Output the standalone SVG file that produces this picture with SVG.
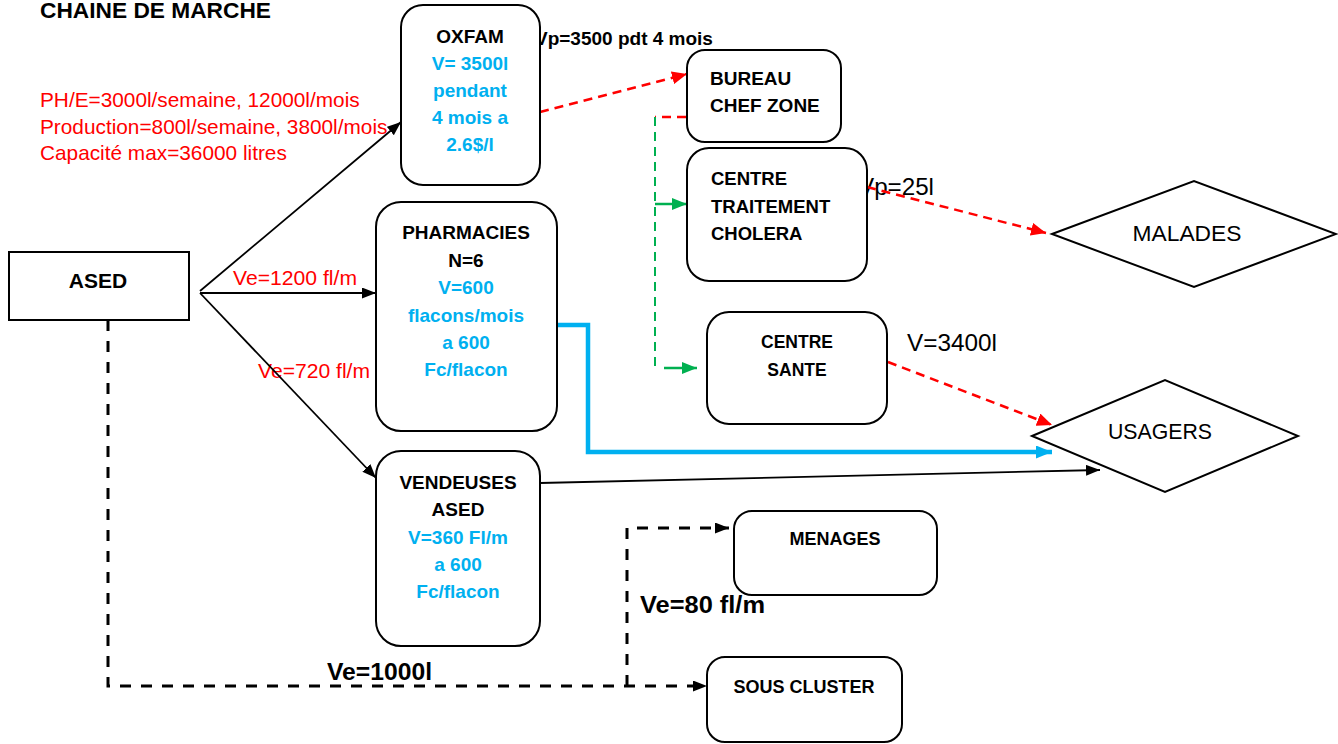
<svg xmlns="http://www.w3.org/2000/svg" width="1338" height="744" viewBox="0 0 1338 744">
<style>
text{font-family:"Liberation Sans",Arial,sans-serif}
.b{font-weight:bold;font-size:19px;fill:#000}
.bl{fill:#00B0F0}
.red{fill:#FF0000;font-size:20.8px}
.box{fill:#fff;stroke:#000;stroke-width:2}
.c{stroke-linecap:butt;fill:none}
.blk{stroke:#000;stroke-width:1.8}
.rd{stroke:#FF0000;stroke-width:2.5;stroke-dasharray:9 6}
.gd{stroke:#00B050;stroke-width:2;stroke-dasharray:9 6}
.gs{stroke:#00B050;stroke-width:2.5}
.bd{stroke:#000;stroke-width:3;stroke-dasharray:11 10}
.blu{stroke:#00B0F0;stroke-width:4.5;stroke-linejoin:miter}
.lbl{font-size:24px;fill:#000}
</style>
<defs>
<marker id="mk" viewBox="0 0 14 11" refX="14" refY="5.5" markerWidth="14" markerHeight="11" markerUnits="userSpaceOnUse" orient="auto"><path d="M0,0 L14,5.5 L0,11 z" fill="#000"/></marker>
<marker id="mr" viewBox="0 0 15 13" refX="15" refY="6.5" markerWidth="15" markerHeight="13" markerUnits="userSpaceOnUse" orient="auto"><path d="M0,0 L15,6.5 L0,13 z" fill="#FF0000"/></marker>
<marker id="mg" viewBox="0 0 15 12" refX="15" refY="6" markerWidth="15" markerHeight="12" markerUnits="userSpaceOnUse" orient="auto"><path d="M0,0 L15,6 L0,12 z" fill="#00B050"/></marker>
<marker id="mb" viewBox="0 0 16 13" refX="16" refY="6.5" markerWidth="16" markerHeight="13" markerUnits="userSpaceOnUse" orient="auto"><path d="M0,0 L16,6.5 L0,13 z" fill="#00B0F0"/></marker>
</defs>
<rect width="1338" height="744" fill="#fff"/>

<text x="40" y="18" style="font-weight:bold;font-size:22px" textLength="231" lengthAdjust="spacingAndGlyphs">CHAINE DE MARCHE</text>
<text class="red" x="40" y="107">PH/E=3000l/semaine, 12000l/mois</text>
<text class="red" x="40" y="134">Production=800l/semaine, 3800l/mois</text>
<text class="red" x="40" y="160">Capacité max=36000 litres</text>

<g id="labels">
<text class="red" x="233" y="285" style="font-size:19.5px" textLength="124" lengthAdjust="spacingAndGlyphs">Ve=1200 fl/m</text>
<text class="red" x="258" y="378" style="font-size:19.5px" textLength="112" lengthAdjust="spacingAndGlyphs">Ve=720 fl/m</text>
<text class="b" x="535" y="45">Vp=3500 pdt 4 mois</text>
<text class="lbl" x="858" y="195" textLength="76" lengthAdjust="spacingAndGlyphs">Vp=25l</text>
<text class="lbl" x="907" y="351" textLength="90" lengthAdjust="spacingAndGlyphs">V=3400l</text>
<text class="b" x="640" y="613" style="font-size:23px" textLength="125" lengthAdjust="spacingAndGlyphs">Ve=80 fl/m</text>
<text class="b" x="327" y="680" style="font-size:23px" textLength="105" lengthAdjust="spacingAndGlyphs">Ve=1000l</text>
</g>

<g id="connectors">
<path class="c blk" d="M200,291 L401,122" marker-end="url(#mk)"/>
<path class="c blk" d="M200,293 L376,293" marker-end="url(#mk)"/>
<path class="c blk" d="M200,293 L376,478" marker-end="url(#mk)"/>
<path class="c rd" d="M540,112 L687,74" marker-end="url(#mr)"/>
<path class="c rd" d="M686,117 H655"/>
<path class="c gd" d="M655,117 V370"/>
<path class="c gs" d="M655,204 H687" marker-end="url(#mg)"/>
<path class="c gs" d="M664,368 H697" marker-end="url(#mg)"/>
<path class="c rd" d="M867,187 L1046,233" marker-end="url(#mr)"/>
<path class="c rd" d="M888,362 L1052,425" marker-end="url(#mr)"/>
<path class="c blu" d="M557,325 H588 V452 H1052" marker-end="url(#mb)"/>
<path class="c blk" d="M540,483 L1100,470" marker-end="url(#mk)"/>
<path class="c bd" d="M108,320 V686 H707" marker-end="url(#mk)"/>
<path class="c bd" d="M627,686 V528 H729" marker-end="url(#mk)"/>
</g>

<g id="ased">
<rect x="9" y="252" width="180" height="68" fill="#fff" stroke="#000" stroke-width="2"/>
<text class="b" x="98" y="288" text-anchor="middle" style="font-size:21px">ASED</text>
</g>

<g id="oxfam">
<rect class="box" x="401" y="5" width="139" height="180" rx="22"/>
<text class="b" x="470" y="43" text-anchor="middle">OXFAM</text>
<text class="b bl" x="470" y="70" text-anchor="middle">V= 3500l</text>
<text class="b bl" x="470" y="97" text-anchor="middle">pendant</text>
<text class="b bl" x="470" y="124" text-anchor="middle">4 mois a</text>
<text class="b bl" x="470" y="151" text-anchor="middle">2.6$/l</text>
</g>

<g id="pharmacies">
<rect class="box" x="376" y="202" width="181" height="229" rx="25"/>
<text class="b" x="466" y="239" text-anchor="middle">PHARMACIES</text>
<text class="b" x="466" y="267" text-anchor="middle">N=6</text>
<text class="b bl" x="466" y="294" text-anchor="middle">V=600</text>
<text class="b bl" x="466" y="322" text-anchor="middle">flacons/mois</text>
<text class="b bl" x="466" y="349" text-anchor="middle">a 600</text>
<text class="b bl" x="466" y="376" text-anchor="middle">Fc/flacon</text>
</g>

<g id="vendeuses">
<rect class="box" x="376" y="451" width="164" height="195" rx="25"/>
<text class="b" x="458" y="489" text-anchor="middle">VENDEUSES</text>
<text class="b" x="458" y="516" text-anchor="middle">ASED</text>
<text class="b bl" x="458" y="544" text-anchor="middle">V=360 Fl/m</text>
<text class="b bl" x="458" y="571" text-anchor="middle">a 600</text>
<text class="b bl" x="458" y="598" text-anchor="middle">Fc/flacon</text>
</g>

<g id="bureau">
<rect class="box" x="687" y="50" width="154" height="92" rx="18"/>
<text class="b" x="710" y="85">BUREAU</text>
<text class="b" x="710" y="112">CHEF ZONE</text>
</g>

<g id="ctc">
<rect class="box" x="687" y="148" width="180" height="133" rx="22"/>
<text class="b" x="711" y="185" style="font-size:18.5px">CENTRE</text>
<text class="b" x="711" y="213" style="font-size:18.5px">TRAITEMENT</text>
<text class="b" x="711" y="240" style="font-size:18.5px">CHOLERA</text>
</g>

<g id="centre-sante">
<rect class="box" x="707" y="312" width="180" height="112" rx="22"/>
<text class="b" x="797" y="348" text-anchor="middle" style="font-size:17.5px">CENTRE</text>
<text class="b" x="797" y="376" text-anchor="middle" style="font-size:17.5px">SANTE</text>
</g>

<g id="malades">
<polygon points="1052,234 1194,181 1336,234 1194,287" fill="#fff" stroke="#000" stroke-width="2"/>
<text x="1187" y="241" text-anchor="middle" style="font-size:22px" textLength="109" lengthAdjust="spacingAndGlyphs">MALADES</text>
</g>

<g id="usagers">
<polygon points="1032,436 1165,380 1298,436 1165,492" fill="#fff" stroke="#000" stroke-width="2"/>
<text x="1160" y="439" text-anchor="middle" style="font-size:22px" textLength="104" lengthAdjust="spacingAndGlyphs">USAGERS</text>
</g>

<g id="menages">
<rect class="box" x="734" y="511" width="203" height="84" rx="18"/>
<text class="b" x="835" y="545" text-anchor="middle" style="font-size:18px">MENAGES</text>
</g>

<g id="sous-cluster">
<rect class="box" x="707" y="657" width="195" height="85" rx="18"/>
<text class="b" x="804" y="693" text-anchor="middle" style="font-size:18px">SOUS CLUSTER</text>
</g>
</svg>
